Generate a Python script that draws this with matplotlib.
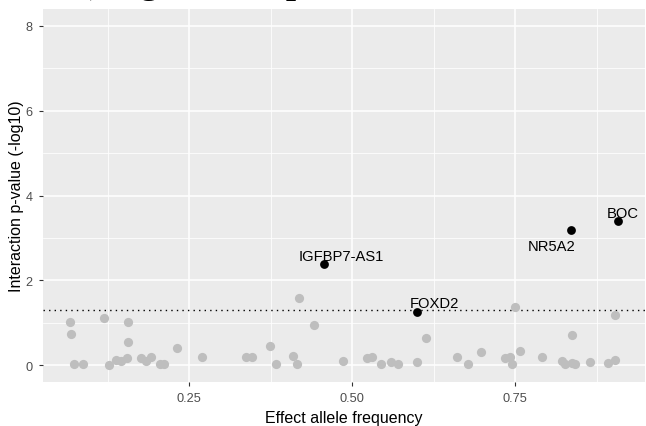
import matplotlib
matplotlib.use("Agg")
import matplotlib.pyplot as plt
from matplotlib.ticker import MultipleLocator

# ---- data ----
grey_x = [0.068, 0.069, 0.074, 0.088, 0.119, 0.127, 0.138, 0.146, 0.155, 0.156, 0.156,
          0.176, 0.184, 0.192, 0.205, 0.212, 0.232, 0.270, 0.338, 0.347, 0.374, 0.384,
          0.410, 0.415, 0.419, 0.442, 0.486, 0.523, 0.531, 0.544, 0.560, 0.571, 0.600,
          0.613, 0.660, 0.678, 0.697, 0.734, 0.742, 0.745, 0.749, 0.758, 0.791, 0.822,
          0.826, 0.837, 0.837, 0.842, 0.865, 0.893, 0.903, 0.903]
grey_y = [1.01, 0.74, 0.02, 0.02, 1.12, 0.00, 0.13, 0.09, 0.17, 1.01, 0.54,
          0.17, 0.09, 0.20, 0.02, 0.02, 0.41, 0.20, 0.20, 0.20, 0.46, 0.02,
          0.21, 0.02, 1.59, 0.94, 0.09, 0.17, 0.20, 0.02, 0.07, 0.02, 0.07,
          0.64, 0.20, 0.02, 0.30, 0.17, 0.20, 0.02, 1.38, 0.33, 0.20, 0.09,
          0.02, 0.70, 0.05, 0.02, 0.07, 0.05, 0.11, 1.17]

sig_genes = ["IGFBP7-AS1", "FOXD2", "NR5A2", "BOC"]
sig_x = [0.457, 0.600, 0.835, 0.907]
sig_y = [2.39, 1.25, 3.18, 3.41]

threshold = 1.30103  # -log10(0.05)
x_ticks = [0.25, 0.50, 0.75]
x_ticklabels = ["0.25", "0.50", "0.75"]
y_ticks = [0, 2, 4, 6, 8]

# label offsets (points) for repel-style labels
label_offsets = {"IGFBP7-AS1": (12.2, 2.4), "FOXD2": (12.6, 3.6),
                 "NR5A2": (-13.7, -14.4), "BOC": (3.6, 2.4)}

# ---- figure ----
fig = plt.figure(figsize=(6.46, 4.27), dpi=100)
ax = fig.add_axes([43 / 646, 1 - 383 / 427, (645 - 43) / 646, (383 - 10) / 427])
ax.set_facecolor("#EBEBEB")
for s in ax.spines.values():
    s.set_visible(False)

ax.set_xlim(0.026, 0.949)
ax.set_ylim(-0.4, 8.4)
ax.set_xticks(x_ticks)
ax.set_xticklabels(x_ticklabels)
ax.set_yticks(y_ticks)
ax.xaxis.set_minor_locator(MultipleLocator(0.125))
ax.yaxis.set_minor_locator(MultipleLocator(1))
ax.tick_params(which="minor", length=0)
ax.tick_params(which="major", length=3, width=0.8, color="#333333",
               labelcolor="#4D4D4D", labelsize=9.2)
ax.tick_params(axis="y", pad=4.5)
ax.tick_params(axis="x", pad=4.5)
ax.grid(which="major", color="white", linewidth=1.1)
ax.grid(which="minor", color="white", linewidth=0.55)
ax.set_axisbelow(True)

ax.axhline(threshold, color="black", linewidth=1.0, linestyle=(0, (1, 3)), zorder=2)

ax.scatter(grey_x, grey_y, s=44, color="#BEBEBE", linewidths=0, zorder=3)
ax.scatter(sig_x, sig_y, s=40, color="black", linewidths=0, zorder=4)

for g, x, y in zip(sig_genes, sig_x, sig_y):
    ax.annotate(g, (x, y), xytext=label_offsets[g], textcoords="offset points",
                ha="center", va="baseline", fontsize=10.6, color="black",
                family="Liberation Sans", zorder=5)

ax.set_xlabel("Effect allele frequency", fontsize=11.5, family="Liberation Sans",
              labelpad=4)
ax.set_ylabel("Interaction p-value (-log10)", fontsize=11.5, family="Liberation Sans")
ax.yaxis.set_label_coords(-0.031, 0.5)
for lab in ax.get_xticklabels() + ax.get_yticklabels():
    lab.set_family("Liberation Sans")

# cropped title at the top edge (only descenders show, as in the reference)
fig.text(69 / 646, 1 + 7 / 427, "b) Significant p-values", fontsize=26,
         fontweight="bold", family="Liberation Serif", va="baseline", ha="left")

fig.savefig("out.png", dpi=100)
